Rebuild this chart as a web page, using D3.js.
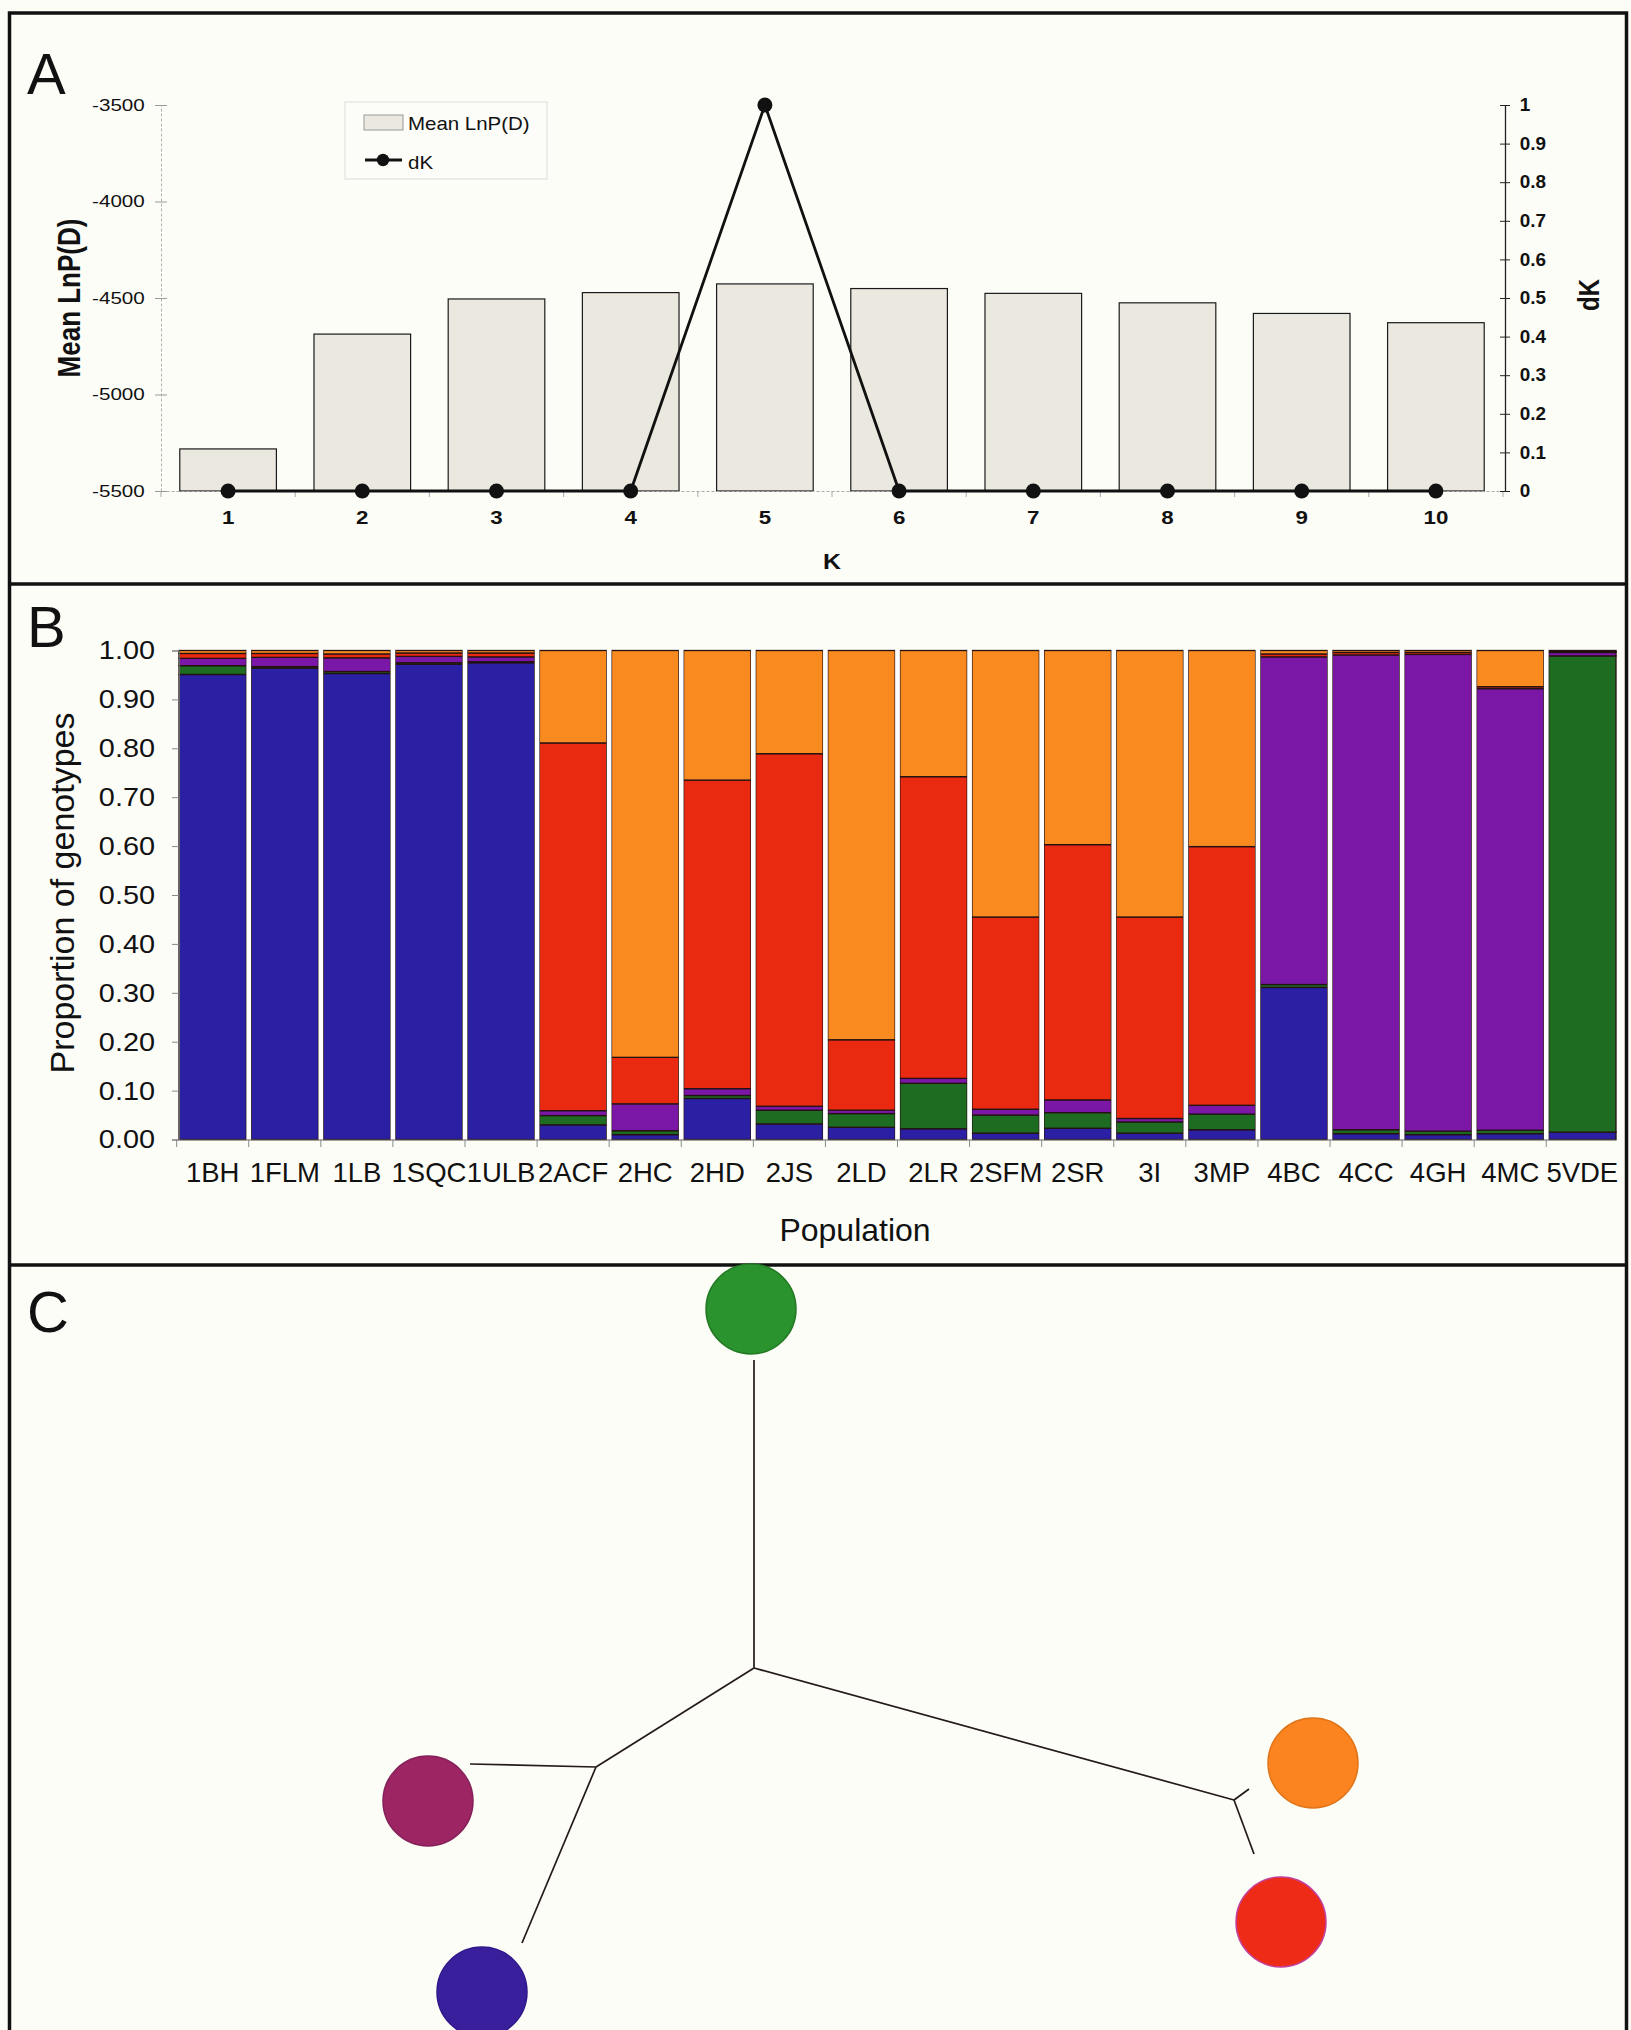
<!DOCTYPE html>
<html>
<head>
<meta charset="utf-8">
<script src="https://cdn.jsdelivr.net/npm/d3@7"></script>
<style>
  body { margin: 0; background: #fdfdf8; }
  svg { display: block; font-family: "Liberation Sans", Arial, Helvetica, sans-serif; }
</style>
</head>
<body>
<div id="fig"></div>
<script>
// ---- Panel A: Evanno plot ----
var kValues = [1, 2, 3, 4, 5, 6, 7, 8, 9, 10];
var meanLnP = [-5282, -4687, -4505, -4472, -4427, -4451, -4476, -4525, -4580, -4628];
var deltaK = [0, 0, 0, 0, 1, 0, 0, 0, 0, 0];
var lnpTicks = [-5500, -5000, -4500, -4000, -3500];
var dkTicks = [0, 0.1, 0.2, 0.3, 0.4, 0.5, 0.6, 0.7, 0.8, 0.9, 1];

// ---- Panel B: STRUCTURE bar plot (K=5) ----
var populations = ["1BH", "1FLM", "1LB", "1SQC", "1ULB", "2ACF", "2HC", "2HD", "2JS", "2LD",
                   "2LR", "2SFM", "2SR", "3I", "3MP", "4BC", "4CC", "4GH", "4MC", "5VDE"];
var clusterNames = ["blue", "green", "purple", "red", "orange"];
var propBlue   = [0.951, 0.964, 0.953, 0.972, 0.975, 0.030, 0.010, 0.084, 0.032, 0.025,
                  0.022, 0.013, 0.023, 0.013, 0.020, 0.311, 0.012, 0.010, 0.012, 0.015];
var propGreen  = [0.018, 0.003, 0.004, 0.003, 0.002, 0.019, 0.008, 0.006, 0.028, 0.028,
                  0.093, 0.037, 0.032, 0.023, 0.032, 0.006, 0.008, 0.007, 0.007, 0.974];
var propPurple = [0.015, 0.019, 0.028, 0.013, 0.010, 0.010, 0.055, 0.014, 0.008, 0.007,
                  0.010, 0.012, 0.026, 0.007, 0.018, 0.670, 0.971, 0.975, 0.903, 0.007];
var propRed    = [0.010, 0.008, 0.008, 0.007, 0.008, 0.752, 0.095, 0.631, 0.721, 0.144,
                  0.617, 0.393, 0.522, 0.412, 0.529, 0.006, 0.005, 0.004, 0.004, 0.002];
var propOrange = [0.006, 0.006, 0.007, 0.005, 0.005, 0.189, 0.832, 0.265, 0.211, 0.796,
                  0.258, 0.545, 0.397, 0.545, 0.401, 0.007, 0.004, 0.004, 0.074, 0.002];
var propTicks = [0, 0.1, 0.2, 0.3, 0.4, 0.5, 0.6, 0.7, 0.8, 0.9, 1.0];

// ---- Panel C: cluster tree (branch units, root at 0,0) ----
var nodeNames = ["root", "left", "right", "tGreen", "tMagenta", "tBlue", "tOrange", "tRed"];
var nodeX = [0, -15.8, 48.0, 0.0, -28.4, -23.2, 49.5, 50.0];
var nodeY = [0, 9.9, 13.2, -30.8, 9.6, 27.5, 12.1, 18.6];
var edgeFrom = ["root", "root", "root", "left", "left", "right", "right"];
var edgeTo   = ["tGreen", "left", "right", "tMagenta", "tBlue", "tOrange", "tRed"];
var tipX = [-0.3, -32.6, -27.2, 55.9, 52.7];
var tipY = [-35.9, 13.3, 32.4, 9.5, 25.4];
var tipColor = ["#2b932d", "#9d2564", "#3a1f9d", "#fb8421", "#ee2b17"];
var tipEdge  = ["#237a25", "#86205a", "#30198a", "#e07418", "#c4409a"];

var W = 1631, H = 2030;
var svg = d3.select("#fig").append("svg").attr("width", W).attr("height", H);
svg.append("rect").attr("width", W).attr("height", H).attr("fill", "#fdfdf8");

function addText(parent, str, x, y, size, o) {
  o = o || {};
  var t = "translate(" + x + "," + y + ")";
  if (o.sx) t += " scale(" + o.sx + ",1)";
  if (o.rotate) t += " rotate(" + o.rotate + ")";
  return parent.append("text").attr("transform", t)
    .attr("font-size", size)
    .attr("font-weight", o.bold ? "bold" : "normal")
    .attr("text-anchor", o.anchor || "start")
    .attr("fill", "#111")
    .text(str);
}

// panel frames
var frame = svg.append("g").attr("fill", "none").attr("stroke", "#111").attr("stroke-width", 3.5);
frame.append("rect").attr("x", 9.5).attr("y", 13).attr("width", 1617).attr("height", 2040);
frame.append("line").attr("x1", 9.5).attr("x2", 1626.5).attr("y1", 584).attr("y2", 584);
frame.append("line").attr("x1", 9.5).attr("x2", 1626.5).attr("y1", 1265).attr("y2", 1265);

// ================= Panel A =================
var gA = svg.append("g");
var xA = d3.scaleBand().domain(kValues).range([161, 1503]).paddingInner(0.28).paddingOuter(0.14);
var yA = d3.scaleLinear().domain([-5500, -3500]).range([491, 105]);
var yDK = d3.scaleLinear().domain([0, 1]).range([491, 105]);

addText(gA, "A", 27, 94, 58);

gA.selectAll("rect.bar").data(kValues).enter().append("rect")
  .attr("class", "bar")
  .attr("x", function(d) { return xA(d); })
  .attr("y", function(d, i) { return yA(meanLnP[i]); })
  .attr("width", xA.bandwidth())
  .attr("height", function(d, i) { return yA(-5500) - yA(meanLnP[i]); })
  .attr("fill", "#ebe8e0")
  .attr("stroke", "#1a1a1a")
  .attr("stroke-width", 1.2);

// x axis
var axB = gA.append("g").attr("transform", "translate(0,491)")
  .call(d3.axisBottom(xA).tickSize(0).tickPadding(20));
axB.attr("font-size", null).attr("font-family", null);
axB.select(".domain").attr("stroke", "#aaa").attr("stroke-dasharray", "3,2");
axB.selectAll("text").attr("font-size", 18.6).attr("font-weight", "bold").attr("fill", "#111")
  .attr("transform", "scale(1.2,1)");
var gapA = (xA.step() - xA.bandwidth()) / 2;
gA.selectAll("line.kt").data(kValues.concat([11])).enter().append("line")
  .attr("class", "kt")
  .attr("x1", function(d) { return d <= 10 ? xA(d) - gapA : xA(10) + xA.bandwidth() + gapA; })
  .attr("x2", function(d) { return d <= 10 ? xA(d) - gapA : xA(10) + xA.bandwidth() + gapA; })
  .attr("y1", 491).attr("y2", 497).attr("stroke", "#aaa");

// left axis
var axL = gA.append("g").attr("transform", "translate(161,0)")
  .call(d3.axisLeft(yA).tickValues(lnpTicks).tickSize(0).tickPadding(13)
    .tickFormat(function(d) { return String(d); }));
axL.attr("font-size", null).attr("font-family", null);
axL.select(".domain").attr("stroke", "#b0b0b0").attr("stroke-dasharray", "3,2");
axL.selectAll(".tick").append("line").attr("x1", -6).attr("x2", 6).attr("stroke", "#999");
axL.selectAll("text").attr("font-size", 16.5).attr("fill", "#111")
  .attr("transform", "scale(1.25,1)");

// right axis
var axR = gA.append("g").attr("transform", "translate(1505,0)")
  .call(d3.axisRight(yDK).tickValues(dkTicks).tickSize(0).tickPadding(14)
    .tickFormat(function(d) { return String(d); }));
axR.attr("font-size", null).attr("font-family", null);
axR.select(".domain").attr("stroke", "#222").attr("stroke-width", 1.3);
axR.selectAll(".tick").append("line").attr("x1", -5).attr("x2", 5).attr("stroke", "#222");
axR.selectAll("text").attr("font-size", 18).attr("font-weight", "bold").attr("fill", "#111")
  .attr("transform", "scale(1.05,1)");

// dK line
var dkLine = d3.line()
  .x(function(d, i) { return xA(kValues[i]) + xA.bandwidth() / 2; })
  .y(function(d) { return yDK(d); });
gA.append("path").datum(deltaK).attr("d", dkLine)
  .attr("fill", "none").attr("stroke", "#111").attr("stroke-width", 2.8);
gA.selectAll("circle.dk").data(deltaK).enter().append("circle")
  .attr("class", "dk")
  .attr("cx", function(d, i) { return xA(kValues[i]) + xA.bandwidth() / 2; })
  .attr("cy", function(d) { return yDK(d); })
  .attr("r", 7.5).attr("fill", "#111");

// titles
addText(gA, "Mean LnP(D)", 80, 298, 26, {bold: true, anchor: "middle", sx: 1.22, rotate: -90});
addText(gA, "dK", 1599, 295, 24, {bold: true, anchor: "middle", sx: 1.22, rotate: -90});
addText(gA, "K", 832, 569, 22, {bold: true, anchor: "middle", sx: 1.13});

// legend
var leg = gA.append("g");
leg.append("rect").attr("x", 345).attr("y", 102).attr("width", 202).attr("height", 77)
  .attr("fill", "#fcfcf9").attr("stroke", "#e6e6e2").attr("stroke-width", 1.5);
leg.append("rect").attr("x", 364).attr("y", 115).attr("width", 39).attr("height", 15)
  .attr("fill", "#ebe8e0").attr("stroke", "#999").attr("stroke-width", 1);
addText(leg, "Mean LnP(D)", 408, 129.5, 18.6, {sx: 1.1});
leg.append("line").attr("x1", 365).attr("x2", 402).attr("y1", 160).attr("y2", 160)
  .attr("stroke", "#111").attr("stroke-width", 2.8);
leg.append("circle").attr("cx", 383).attr("cy", 160).attr("r", 6.2).attr("fill", "#111");
addText(leg, "dK", 408, 168.5, 18.6, {sx: 1.1});

// ================= Panel B =================
var gB = svg.append("g");
var colorB = {blue: "#2b1fa3", green: "#1e6b22", purple: "#7b17a7", red: "#ea2a10", orange: "#f98a1f"};
var xB = d3.scaleBand().domain(populations).range([179, 1616]).paddingInner(0.065).paddingOuter(0);
var yB = d3.scaleLinear().domain([0, 1]).range([1139.5, 650.5]);

addText(gB, "B", 27, 647, 58);

var tableB = populations.map(function(p, i) {
  return {pop: p, blue: propBlue[i], green: propGreen[i], purple: propPurple[i],
          red: propRed[i], orange: propOrange[i]};
});
var series = d3.stack().keys(clusterNames)(tableB);

gB.selectAll("g.layer").data(series).enter().append("g")
  .attr("class", "layer")
  .attr("fill", function(s) { return colorB[s.key]; })
  .selectAll("rect").data(function(s) { return s; }).enter().append("rect")
  .attr("x", function(d) { return xB(d.data.pop); })
  .attr("y", function(d) { return yB(d[1]); })
  .attr("width", xB.bandwidth())
  .attr("height", function(d) { return yB(d[0]) - yB(d[1]); })
  .attr("stroke", "#241212")
  .attr("stroke-width", 1.3);

// white gaps between bars
var gapB = xB.step() - xB.bandwidth();
gB.selectAll("rect.gap").data(populations.slice(1)).enter().append("rect")
  .attr("class", "gap")
  .attr("x", function(d) { return xB(d) - gapB; })
  .attr("y", yB(1) - 1).attr("width", gapB).attr("height", yB(0) - yB(1) + 2)
  .attr("fill", "#ffffff");

var ayB = gB.append("g").attr("transform", "translate(179,0)")
  .call(d3.axisLeft(yB).tickValues(propTicks).tickSize(7).tickPadding(15).tickFormat(d3.format(".2f")));
ayB.attr("font-size", null).attr("font-family", null);
ayB.select(".domain").attr("stroke", "#666");
ayB.selectAll(".tick line").attr("stroke", "#888");
ayB.selectAll("text").attr("font-size", 26.5).attr("fill", "#111")
  .attr("transform", "scale(1.09,1)");

var axBB = gB.append("g").attr("transform", "translate(0,1139.5)")
  .call(d3.axisBottom(xB).tickSize(0).tickPadding(23));
axBB.attr("font-size", null).attr("font-family", null);
axBB.select(".domain").attr("stroke", "#666");
axBB.selectAll("text").attr("font-size", 27.5).attr("fill", "#111");
gB.selectAll("line.pt").data(populations).enter().append("line")
  .attr("class", "pt")
  .attr("x1", function(d) { return xB(d) - gapB / 2; })
  .attr("x2", function(d) { return xB(d) - gapB / 2; })
  .attr("y1", 1139.5).attr("y2", 1147).attr("stroke", "#888");

addText(gB, "Proportion of genotypes", 74, 893, 34, {anchor: "middle", rotate: -90});
addText(gB, "Population", 855, 1241, 32, {anchor: "middle"});

// ================= Panel C =================
var gC = svg.append("g");
var xC = d3.scaleLinear().domain([-60, 60]).range([154, 1354]);
var yC = d3.scaleLinear().domain([-40, 40]).range([1268, 2068]);

addText(gC, "C", 27, 1332, 58);

var nodeIndex = {};
nodeNames.forEach(function(n, i) { nodeIndex[n] = i; });
gC.selectAll("line.edge").data(edgeFrom).enter().append("line")
  .attr("class", "edge")
  .attr("x1", function(d) { return xC(nodeX[nodeIndex[d]]); })
  .attr("y1", function(d) { return yC(nodeY[nodeIndex[d]]); })
  .attr("x2", function(d, i) { return xC(nodeX[nodeIndex[edgeTo[i]]]); })
  .attr("y2", function(d, i) { return yC(nodeY[nodeIndex[edgeTo[i]]]); })
  .attr("stroke", "#231a1a").attr("stroke-width", 1.7);

var tipR = xC(4.5) - xC(0);
gC.selectAll("circle.tip").data(tipColor).enter().append("circle")
  .attr("class", "tip")
  .attr("cx", function(d, i) { return xC(tipX[i]); })
  .attr("cy", function(d, i) { return yC(tipY[i]); })
  .attr("r", tipR)
  .attr("fill", function(d) { return d; })
  .attr("stroke", function(d, i) { return tipEdge[i]; })
  .attr("stroke-width", 1.5);
</script>
</body>
</html>
